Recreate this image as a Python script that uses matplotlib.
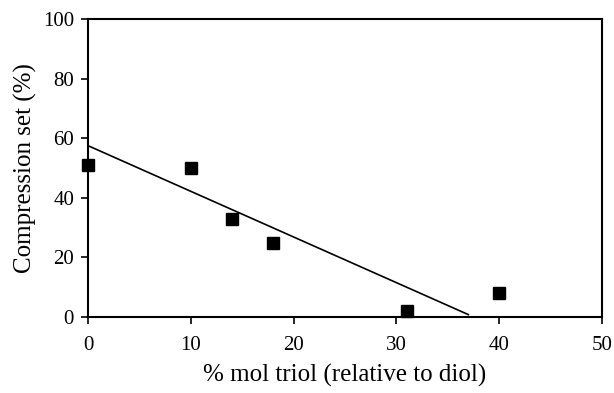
import matplotlib
matplotlib.use("Agg")
from matplotlib import pyplot as plt

triol = [0, 10, 14, 18, 31, 40]
compression_set = [51, 50, 33, 25, 2, 8]

# trend line ends
trend_x = [0, 37]
trend_y = [57.5, 0.8]

plt.rcParams['font.family'] = ['Liberation Serif', 'DejaVu Serif']

fig = plt.figure(figsize=(6.14, 3.93), dpi=100)
ax = fig.add_axes([88 / 614, 1 - 317 / 393, (602 - 88) / 614, (317 - 19) / 393])

ax.plot(trend_x, trend_y, color="black", linewidth=1.2)
ax.plot(triol, compression_set, 's', color="black", markersize=8, clip_on=False)

ax.set_xlim(0, 50)
ax.set_ylim(0, 100)
ax.set_xticks(range(0, 51, 10))
ax.set_yticks(range(0, 101, 20))
ax.tick_params(direction='out', length=5, width=1.2, labelsize=15, colors='black')
ax.tick_params(axis='x', pad=9)
ax.tick_params(axis='y', pad=5)
for s in ax.spines.values():
    s.set_linewidth(1.5)

ax.set_xlabel("% mol triol (relative to diol)", fontsize=18, labelpad=6)
ax.set_ylabel("Compression set (%)", fontsize=18, labelpad=4)

fig.savefig("out.png", dpi=100)
